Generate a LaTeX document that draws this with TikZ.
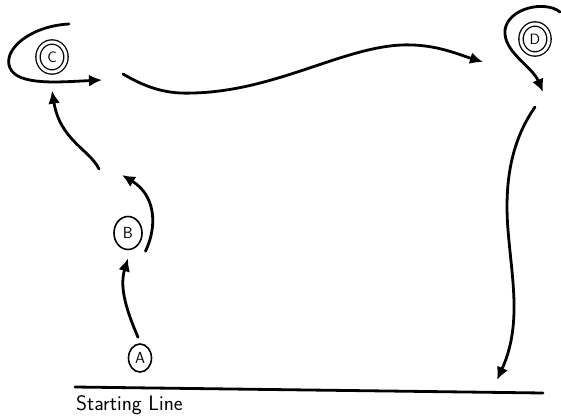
\documentclass[tikz,border=0pt]{standalone}
\usetikzlibrary{arrows.meta,shapes.geometric}

\begin{document}
\begin{tikzpicture}[
    x=1pt, y=-1pt,
    spot/.style={draw, ellipse, line width=1.6pt, inner sep=0pt, minimum width=23pt, minimum height=28pt, font=\sffamily\fontsize{16}{16}\selectfont},
    bigspot/.style={spot, double, double distance=3pt, line width=1.3pt, minimum width=28pt, minimum height=30pt, font=\sffamily\fontsize{15}{15}\selectfont},
    link/.style={-{Latex[length=13pt, width=12pt]}, line width=2.8pt, line cap=round},
    trail/.style={line width=2.8pt, line cap=round}
]
\useasboundingbox (0,0) rectangle (561,417);
\node[spot] (A) at (140,358) {A};
\node[spot, minimum width=28pt, minimum height=33pt] (B) at (128,233) {B};
\node[bigspot] (C) at (52,57) {C};
\node[bigspot] (D) at (535,39) {D};
\coordinate (cin) at (69,24);
\coordinate (cout) at (102,80);
\coordinate (bup) at (122,175);
\coordinate (bmid) at (99,169);
\coordinate (din) at (560,12);
\coordinate (dout) at (543,92);
\coordinate (cd) at (123,74);
\coordinate (dd) at (535,107);
\coordinate (lineL) at (75,387);
\coordinate (lineR) at (543,393);
\node[anchor=north west, inner sep=0pt, font=\sffamily\fontsize{21}{21}\selectfont] (start) at (76,395) {Starting Line};
\draw[link] ([shift={(-2pt,6pt)}]A.north) .. controls (124,305) and (120,285) .. ([yshift=-8pt]B.south);
\draw[link] ([shift={(7pt,-6pt)}]B.south east) .. controls (158,225) and (155,195) .. (bup);
\draw[link] (bmid) .. controls (90,150) and (60,140) .. ([yshift=-18pt]C.south);
\draw[link] (cin) .. controls (30,26) and (2,50) .. (10,68) .. controls (18,86) and (60,82) .. (cout);
\draw[link] (cd) .. controls (150,90) and (170,94) .. (193,93) .. controls (280,91) and (350,42) .. (413,45) .. controls (440,46) and (460,55) .. (483,62);
\draw[link] (din) .. controls (545,0) and (508,8) .. (505,30) .. controls (503,52) and (532,66) .. (dout);
\draw[link] (dd) .. controls (512,140) and (504,180) .. (508,230) .. controls (512,280) and (522,325) .. (497,380);
\draw[trail] (lineL) -- (lineR);
\end{tikzpicture}
\end{document}
